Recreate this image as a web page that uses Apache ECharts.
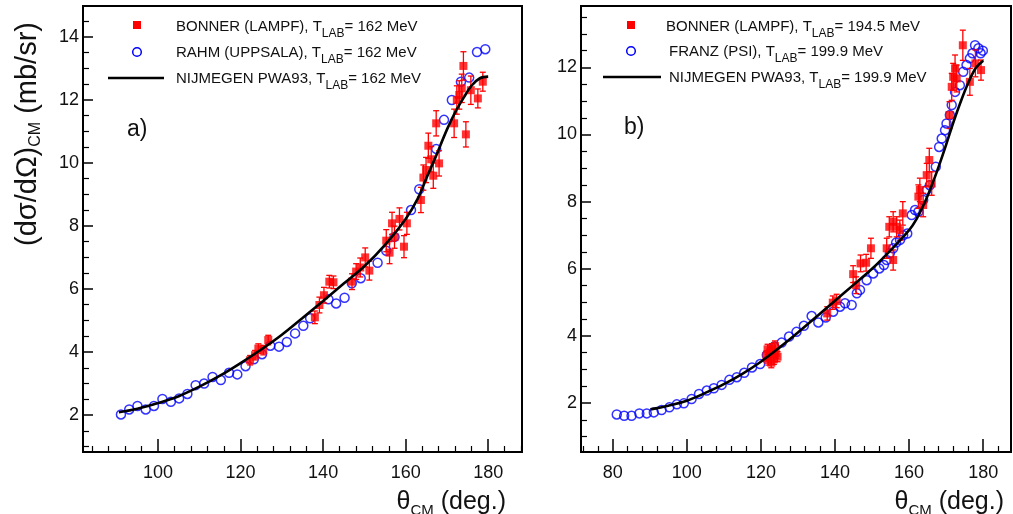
<!DOCTYPE html>
<html><head><meta charset="utf-8">
<script src="https://cdn.jsdelivr.net/npm/echarts@6/dist/echarts.min.js"></script>
<style>html,body{margin:0;padding:0;background:#fff}#c{width:1013px;height:514px}</style>
</head><body><div id="c"></div>
<script>
// ---------- Panel a) T_LAB = 162 MeV ----------
const bonnerA_theta = [122.3,123.5,124.3,125.5,126.7,138.0,139.1,140.2,141.5,142.5,147.0,148.0,149.0,150.2,151.2,155.3,156.1,156.7,157.3,158.5,159.6,160.3,163.7,164.3,164.95,165.5,166.2,166.7,167.4,168.1,171.75,172.4,173.0,173.6,174.0,174.6,175.8,177.5,178.7];
const bonnerA_xs    = [3.74,3.90,4.11,4.06,4.38,5.10,5.49,5.80,6.23,6.21,6.23,6.55,6.68,7.00,6.58,7.53,7.15,8.08,7.64,8.22,7.34,8.08,8.82,9.53,9.77,10.54,10.11,9.59,11.25,9.98,11.25,11.99,12.15,12.36,13.07,10.90,12.30,12.04,12.57];
const bonnerA_err   = [0.15,0.15,0.15,0.15,0.15,0.20,0.25,0.25,0.20,0.20,0.25,0.25,0.30,0.30,0.30,0.35,0.35,0.35,0.35,0.35,0.35,0.35,0.40,0.40,0.40,0.40,0.40,0.40,0.40,0.40,0.45,0.45,0.45,0.45,0.45,0.40,0.45,0.30,0.30];

const rahm_theta = [91.0,93.0,95.0,97.0,99.0,101.05,103.1,105.1,107.1,109.1,111.15,113.2,115.2,117.2,119.2,121.2,123.2,125.2,127.2,129.3,131.2,133.2,135.2,136.85,141.3,143.15,145.2,146.95,149.1,153.2,155.3,157.3,161.3,163.3,167.4,169.3,171.2,173.4,175.4,177.3,179.3];
const rahm_xs    = [2.02,2.18,2.29,2.18,2.29,2.51,2.42,2.53,2.67,2.95,3.00,3.21,3.11,3.34,3.29,3.55,3.77,3.93,4.20,4.17,4.32,4.59,4.83,5.07,5.67,5.54,5.72,6.18,6.34,6.83,7.21,7.65,8.50,9.16,10.44,11.36,11.99,12.57,12.70,13.51,13.60];

const pwaA_theta = [90.5,95,100,105,110,115,120,125,130,135,140,145,150,155,160,163,165,167,170,172,174,176,178,180];
const pwaA_xs    = [2.09,2.20,2.38,2.60,2.90,3.25,3.65,4.08,4.55,5.08,5.62,6.17,6.72,7.40,8.22,8.88,9.50,10.10,11.05,11.60,12.05,12.45,12.68,12.73];

// ---------- Panel b) T_LAB = 194.5 / 199.9 MeV ----------
const bonnerB_theta = [121.5,121.8,122.0,122.5,122.8,123.0,123.5,123.8,124.0,124.5,137.9,139.4,140.45,144.9,145.7,146.9,148.4,149.7,153.95,154.65,155.7,155.7,156.65,157.5,158.3,162.5,162.9,163.8,164.75,165.45,166.1,170.9,171.5,171.9,172.4,172.85,174.5,176.4,177.9,179.4];
const bonnerB_xs    = [3.40,3.60,3.28,3.52,3.20,3.62,3.30,3.70,3.48,3.38,4.67,4.99,5.04,5.84,5.51,6.16,6.18,6.61,6.61,7.25,7.40,6.26,7.25,7.15,7.65,8.15,8.35,7.90,8.79,9.24,8.54,10.58,11.42,11.72,11.97,11.67,12.66,11.57,12.12,11.92];
const bonnerB_err   = [0.15,0.15,0.15,0.15,0.15,0.15,0.15,0.15,0.15,0.15,0.20,0.20,0.20,0.25,0.25,0.25,0.25,0.30,0.30,0.30,0.30,0.30,0.30,0.30,0.35,0.35,0.35,0.35,0.35,0.35,0.35,0.40,0.40,0.40,0.40,0.40,0.45,0.40,0.40,0.30];

const franz_theta = [81.1,83.1,85.1,87.2,89.2,91.1,93.2,95.3,97.3,99.2,101.3,103.3,105.4,107.3,109.4,111.5,113.5,115.5,117.6,119.8,121.6,123.6,125.6,127.6,129.6,131.6,133.7,135.5,137.5,139.5,141.35,142.7,144.5,145.9,146.75,148.55,150.3,151.95,153.2,153.95,154.8,155.7,156.5,157.55,158.4,159.5,160.7,161.6,162.5,163.8,164.75,165.6,167.2,168.1,168.8,169.7,170.1,171.0,171.5,172.4,173.7,174.6,175.5,176.4,177.1,177.8,178.7,179.3,179.9];
const franz_xs    = [1.66,1.62,1.62,1.69,1.69,1.72,1.79,1.87,1.96,1.99,2.12,2.27,2.37,2.44,2.54,2.69,2.77,2.90,3.06,3.16,3.43,3.68,3.80,3.98,4.12,4.30,4.59,4.40,4.55,4.72,4.87,4.97,4.92,5.27,5.37,5.66,5.86,6.01,6.11,6.26,6.46,6.61,6.78,6.86,7.00,7.05,7.60,7.75,7.70,8.05,8.35,8.49,9.04,9.63,9.88,10.13,10.33,10.58,10.88,11.27,11.47,11.87,12.07,12.27,12.42,12.66,12.57,12.42,12.50];

const pwaB_theta = [90.2,95,100,105,110,115,120,125,130,135,140,145,150,155,160,162,164,166,168,170,172,174,176,178,180];
const pwaB_xs    = [1.81,1.92,2.07,2.30,2.56,2.87,3.23,3.65,4.10,4.57,5.05,5.52,6.00,6.55,7.15,7.48,7.92,8.45,9.05,9.70,10.38,11.00,11.55,11.98,12.20];

// ---------- Axis ticks ----------
const xMajorA = [100,120,140,160,180];
const xMinorA = [84,88,92,96,104,108,112,116,124,128,132,136,144,148,152,156,164,168,172,176,184,188];
const yMajorA = [2,4,6,8,10,12,14];
const yMinorA = [1,1.5,2.5,3,3.5,4.5,5,5.5,6.5,7,7.5,8.5,9,9.5,10.5,11,11.5,12.5,13,13.5,14.5];
const xMajorB = [80,100,120,140,160,180];
const xMinorB = [72,76,84,88,92,96,104,108,112,116,124,128,132,136,144,148,152,156,164,168,172,176,184];
const yMajorB = [2,4,6,8,10,12];
const yMinorB = [1,1.5,2.5,3,3.5,4.5,5,5.5,6.5,7,7.5,8.5,9,9.5,10.5,11,11.5,12.5,13,13.5];

const FONTNAME = 'Liberation Sans';
const FONT = 'Liberation Sans, Arial, Helvetica, sans-serif';
const zip2 = (a,b) => a.map((v,i)=>[v,b[i]]);
const zip3 = (a,b,c) => a.map((v,i)=>[v,b[i],c[i]]);

function xAxesFor(g, min, max, majors, minors){
  return [
    {type:'value', gridIndex:g, min, max, position:'bottom',
     axisLine:{show:true, onZero:false, lineStyle:{color:'#000', width:2}},
     axisTick:{show:true, inside:true, length:13, customValues:majors, lineStyle:{color:'#000', width:1.5}},
     axisLabel:{show:true, customValues:majors, fontSize:18, color:'#111', fontFamily:FONT, margin:12},
     splitLine:{show:false}},
    {type:'value', gridIndex:g, min, max, position:'bottom',
     axisLine:{show:false, onZero:false},
     axisTick:{show:true, inside:true, length:6, customValues:minors, lineStyle:{color:'#000', width:1.2}},
     axisLabel:{show:false}, splitLine:{show:false}}
  ];
}
function yAxesFor(g, min, max, majors, minors){
  return [
    {type:'value', gridIndex:g, min, max, position:'left',
     axisLine:{show:true, onZero:false, lineStyle:{color:'#000', width:2}},
     axisTick:{show:true, inside:true, length:10, customValues:majors, lineStyle:{color:'#000', width:1.5}},
     axisLabel:{show:true, customValues:majors, fontSize:18, color:'#111', fontFamily:FONT, margin:4},
     splitLine:{show:false}},
    {type:'value', gridIndex:g, min, max, position:'left',
     axisLine:{show:false, onZero:false},
     axisTick:{show:true, inside:true, length:6, customValues:minors, lineStyle:{color:'#000', width:1.2}},
     axisLabel:{show:false}, splitLine:{show:false}}
  ];
}

function errRender(params, api){
  const x = api.value(0), y = api.value(1), e = api.value(2);
  const lo = api.coord([x, y - e]), hi = api.coord([x, y + e]);
  const w = 3, st = {stroke:'#ff0000', lineWidth:1.3};
  return {type:'group', children:[
    {type:'line', shape:{x1:lo[0], y1:lo[1], x2:hi[0], y2:hi[1]}, style:st},
    {type:'line', shape:{x1:lo[0]-w, y1:lo[1], x2:lo[0]+w, y2:lo[1]}, style:st},
    {type:'line', shape:{x1:hi[0]-w, y1:hi[1], x2:hi[0]+w, y2:hi[1]}, style:st}
  ]};
}

function seriesFor(xi, yi, bT, bV, bE, cT, cV, pT, pV){
  return [
    {type:'custom', xAxisIndex:xi, yAxisIndex:yi, renderItem:errRender, encode:{x:0,y:1}, data:zip3(bT,bV,bE), z:3, silent:true},
    {type:'scatter', xAxisIndex:xi, yAxisIndex:yi, data:zip2(cT,cV), symbol:'circle', symbolSize:9,
     itemStyle:{color:'rgba(0,0,0,0)', borderColor:'#0000ff', borderWidth:1.5}, z:2, silent:true},
    {type:'scatter', xAxisIndex:xi, yAxisIndex:yi, data:zip2(bT,bV), symbol:'rect', symbolSize:8,
     itemStyle:{color:'#ff0000'}, z:4, silent:true},
    {type:'line', xAxisIndex:xi, yAxisIndex:yi, data:zip2(pT,pV), smooth:0.35, showSymbol:false, symbol:'none',
     lineStyle:{color:'#000', width:2.6}, z:5, silent:true}
  ];
}

// text with a subscript, built from three plain text pieces
const mctx = document.createElement('canvas').getContext('2d');
function measure(t, fs){ mctx.font = fs + 'px "' + FONTNAME + '"'; return mctx.measureText(t).width; }
function subLabel(x, y, pre, sub, post, fs, sfs, dy, align, rotation){
  const w1 = measure(pre, fs), w2 = measure(sub, sfs), w3 = measure(post, fs);
  const total = w1 + w2 + w3;
  const x0 = align === 'right' ? -total : (align === 'center' ? -total/2 : 0);
  const st = (t, f) => ({text:t, fontSize:f, fontFamily:FONTNAME, fill:'#111', verticalAlign:'middle', align:'left'});
  return {type:'group', x, y, rotation: rotation || 0, children:[
    {type:'text', x:x0, y:0, style:st(pre, fs)},
    {type:'text', x:x0 + w1, y:dy, style:st(sub, sfs)},
    {type:'text', x:x0 + w1 + w2, y:0, style:st(post, fs)}
  ]};
}

const graphics = [
  // panel a legend
  {type:'rect', shape:{x:133, y:21, width:8, height:8}, style:{fill:'#ff0000'}},
  {type:'circle', shape:{cx:137, cy:52, r:4.3}, style:{fill:'none', stroke:'#0000ff', lineWidth:1.5}},
  {type:'line', shape:{x1:108, y1:78, x2:164, y2:78}, style:{stroke:'#000', lineWidth:2.6}},
  subLabel(176, 27, 'BONNER (LAMPF), T', 'LAB', '= 162 MeV', 15, 12, 7, 'left'),
  subLabel(176, 53, 'RAHM (UPPSALA), T', 'LAB', '= 162 MeV', 15, 12, 7, 'left'),
  subLabel(176, 79, 'NIJMEGEN PWA93, T', 'LAB', '= 162 MeV', 15, 12, 7, 'left'),
  // panel b legend
  {type:'rect', shape:{x:627, y:21, width:8, height:8}, style:{fill:'#ff0000'}},
  {type:'circle', shape:{cx:631, cy:51, r:4.3}, style:{fill:'none', stroke:'#0000ff', lineWidth:1.5}},
  {type:'line', shape:{x1:603, y1:77, x2:661, y2:77}, style:{stroke:'#000', lineWidth:2.6}},
  subLabel(666, 27, 'BONNER (LAMPF), T', 'LAB', '= 194.5 MeV', 15, 12, 7, 'left'),
  subLabel(669, 52, 'FRANZ (PSI), T', 'LAB', '= 199.9 MeV', 15, 12, 7, 'left'),
  subLabel(669, 78, 'NIJMEGEN PWA93, T', 'LAB', '= 199.9 MeV', 15, 12, 7, 'left'),
  // panel labels
  {type:'text', x:127, y:130, style:{text:'a)', fontSize:23, fontFamily:FONT, fill:'#111', verticalAlign:'middle'}},
  {type:'text', x:624, y:128, style:{text:'b)', fontSize:23, fontFamily:FONT, fill:'#111', verticalAlign:'middle'}},
  // y-axis title (rotated)
  subLabel(28, 134, '(dσ/dΩ)', 'CM', ' (mb/sr)', 29, 16, 8, 'center', Math.PI/2),
  // x-axis titles
  subLabel(506, 502, 'θ', 'CM', ' (deg.)', 25, 15, 9, 'right'),
  subLabel(1004, 502, 'θ', 'CM', ' (deg.)', 25, 15, 9, 'right')
];

const chart = echarts.init(document.getElementById('c'), null, {renderer:'canvas'});
chart.setOption({
  animation:false,
  backgroundColor:'#fff',
  grid:[
    {left:83, top:6, width:439, height:446, show:true, borderColor:'#000', borderWidth:2, backgroundColor:'transparent'},
    {left:581, top:6, width:430, height:446, show:true, borderColor:'#000', borderWidth:2, backgroundColor:'transparent'}
  ],
  xAxis:[...xAxesFor(0, 81.8, 188.2, xMajorA, xMinorA), ...xAxesFor(1, 71.45, 187.5, xMajorB, xMinorB)],
  yAxis:[...yAxesFor(0, 0.83, 14.97, yMajorA, yMinorA), ...yAxesFor(1, 0.54, 13.83, yMajorB, yMinorB)],
  series:[
    ...seriesFor(0, 0, bonnerA_theta, bonnerA_xs, bonnerA_err, rahm_theta, rahm_xs, pwaA_theta, pwaA_xs),
    ...seriesFor(2, 2, bonnerB_theta, bonnerB_xs, bonnerB_err, franz_theta, franz_xs, pwaB_theta, pwaB_xs)
  ],
  graphic: graphics
});
</script></body></html>
